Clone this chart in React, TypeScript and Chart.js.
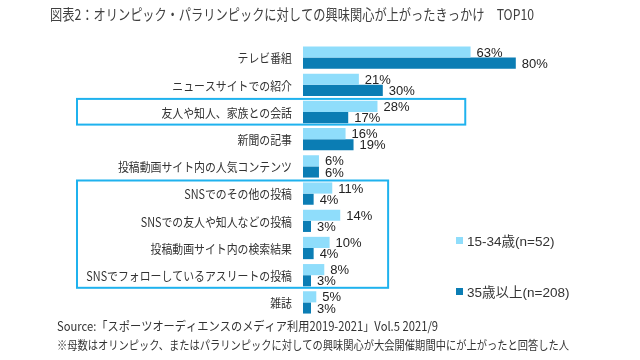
import React, { useEffect, useRef } from "react";
import { Chart, registerables } from "chart.js";

Chart.register(...registerables);

const categories = [
  "テレビ番組",
  "ニュースサイトでの紹介",
  "友人や知人、家族との会話",
  "新聞の記事",
  "投稿動画サイト内の人気コンテンツ",
  "SNSでのその他の投稿",
  "SNSでの友人や知人などの投稿",
  "投稿動画サイト内の検索結果",
  "SNSでフォローしているアスリートの投稿",
  "雑誌",
];
const seriesNames = ["15-34歳(n=52)", "35歳以上(n=208)"];
const young = [63, 21, 28, 16, 6, 11, 14, 10, 8, 5];
const older = [80, 30, 17, 19, 6, 4, 3, 4, 3, 3];
const colors = ["#8FDDFB", "#0B7DB4"];
// highlight boxes: [first category index, last category index, right edge value]
const highlights = [
  [2, 2, 61],
  [5, 8, 32],
];
const titleText = "図表2：オリンピック・パラリンピックに対しての興味関心が上がったきっかけ　TOP10";
const sourceText = "Source:「スポーツオーディエンスのメディア利用2019-2021」Vol.5 2021/9";
const noteText = "※母数はオリンピック、またはパラリンピックに対しての興味関心が大会開催期間中にが上がったと回答した人";

const CJK = '"Noto Sans CJK JP", "Noto Sans", sans-serif';
const LAT = '"Liberation Sans", Arial, "Noto Sans CJK JP", sans-serif';

function fitText(ctx: CanvasRenderingContext2D, text: string, x: number, y: number, w: number) {
  const m = ctx.measureText(text).width;
  ctx.save();
  ctx.translate(x, y);
  ctx.scale(Math.min(1, w / m), 1);
  ctx.fillText(text, 0, 0);
  ctx.restore();
}

const decor = {
  id: "decor",
  afterDraw(chart: any) {
    const ctx: CanvasRenderingContext2D = chart.ctx;
    const y = chart.scales.y;
    const x = chart.scales.x;
    const area = chart.chartArea;
    const step = y.getPixelForValue(1) - y.getPixelForValue(0);
    ctx.save();
    // category labels (condensed like the original UI font)
    ctx.fillStyle = "#333";
    ctx.font = `12.5px ${CJK}`;
    ctx.textAlign = "right";
    ctx.textBaseline = "middle";
    categories.forEach((c, i) => {
      ctx.save();
      ctx.translate(area.left - 11, y.getPixelForValue(i) + 1);
      ctx.scale(0.87, 1);
      ctx.fillText(c, 0, 0);
      ctx.restore();
    });
    // value labels
    ctx.textAlign = "left";
    ctx.font = `13px ${LAT}`;
    ctx.fillStyle = "#222";
    [0, 1].forEach((d) => {
      const meta = chart.getDatasetMeta(d);
      meta.data.forEach((bar: any, i: number) => {
        const v = chart.data.datasets[d].data[i];
        ctx.fillText(v + "%", bar.x + 6, bar.y + 1);
      });
    });
    // highlight boxes
    ctx.strokeStyle = "#1FB2EE";
    ctx.lineWidth = 2;
    highlights.forEach(([a, b, r]) => {
      const top = y.getPixelForValue(a) - step / 2 + 0.5;
      const bot = y.getPixelForValue(b) + step / 2 - 1;
      const left = 77;
      const right = x.getPixelForValue(r);
      ctx.strokeRect(left, top, right - left, bot - top);
    });
    // legend
    ctx.font = `13.5px ${LAT}`;
    ctx.textBaseline = "middle";
    seriesNames.forEach((n, i) => {
      const ly = 241 + i * 51;
      ctx.fillStyle = colors[i];
      ctx.fillRect(456, ly - 4, 7, 7);
      ctx.fillStyle = "#333";
      ctx.fillText(n, 467, ly + 1);
    });
    // title and notes
    ctx.fillStyle = "#404040";
    ctx.font = `15px ${CJK}`;
    fitText(ctx, titleText, 50, 14, 484);
    ctx.font = `12.5px ${CJK}`;
    ctx.fillStyle = "#333";
    fitText(ctx, sourceText, 57, 326, 381);
    ctx.font = `12px ${CJK}`;
    fitText(ctx, noteText, 57, 345, 512);
    ctx.restore();
  },
};

export default function App() {
  const ref = useRef<HTMLCanvasElement>(null);
  useEffect(() => {
    document.body.style.margin = "0";
    const chart = new Chart(ref.current!, {
      type: "bar",
      data: {
        labels: categories,
        datasets: [
          { label: seriesNames[0], data: young, backgroundColor: colors[0] },
          { label: seriesNames[1], data: older, backgroundColor: colors[1] },
        ],
      },
      options: {
        indexAxis: "y",
        responsive: false,
        animation: false,
        layout: { padding: { left: 303, right: 71, top: 44, bottom: 44 } },
        datasets: { bar: { categoryPercentage: 0.82, barPercentage: 1 } },
        scales: {
          x: { display: false, min: 0, max: 100 },
          y: { display: false },
        },
        plugins: { legend: { display: false }, tooltip: { enabled: false } },
      },
      plugins: [decor],
    });
    return () => chart.destroy();
  }, []);
  return (
    <div style={{ position: "absolute", left: 0, top: 0, width: 640, height: 360, background: "#fff" }}>
      <canvas ref={ref} width={640} height={360} />
    </div>
  );
}
